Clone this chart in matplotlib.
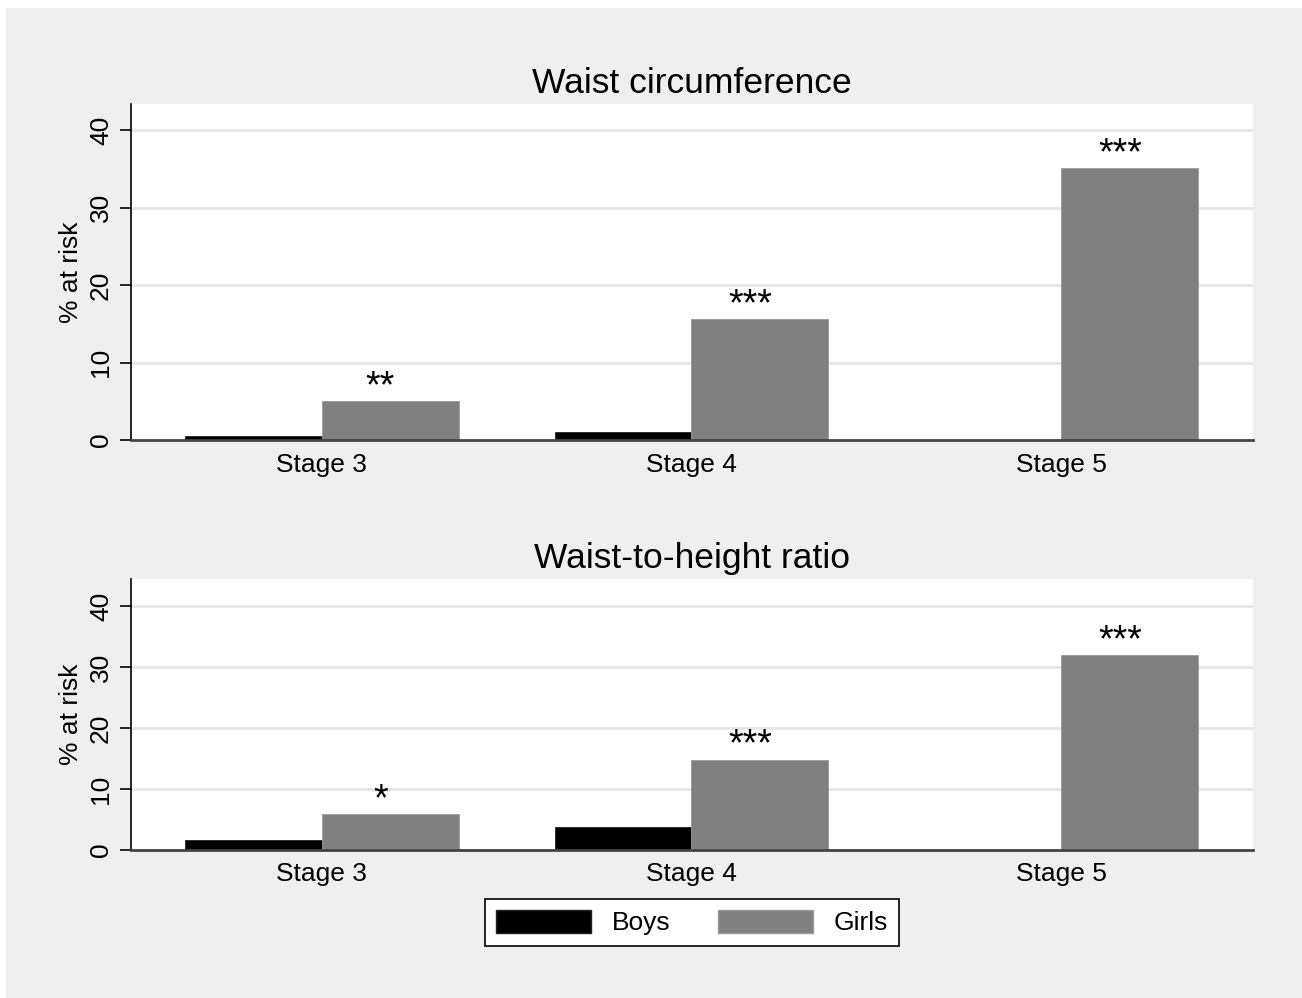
import numpy as np
import matplotlib
matplotlib.use("Agg")
import matplotlib.pyplot as plt
from matplotlib.patches import Rectangle, Patch

plt.rcParams['font.family'] = ['Liberation Sans', 'DejaVu Sans']

stages = ["Stage 3", "Stage 4", "Stage 5"]
titles = ["Waist circumference", "Waist-to-height ratio"]
boys = [[0.5, 1.0, 0.0], [1.6, 3.8, 0.0]]
girls = [[5.0, 15.6, 35.1], [5.9, 14.8, 31.9]]
stars = [["**", "***", "***"], ["*", "***", "***"]]
yticks = [0, 10, 20, 30, 40]
ytops = [43.4, 44.4]

fig = plt.figure(figsize=(13.02, 9.98), dpi=100, facecolor="white")
# stata style grey outer region
fig.patches.append(Rectangle((6 / 1302, 0), 1, 1 - 8 / 998, transform=fig.transFigure,
                             facecolor="#efefef", edgecolor="none", zorder=-10))

boxes = [[0.1006, 0.5591, 0.8618, 0.3367], [0.1006, 0.1483, 0.8618, 0.2715]]
x = np.arange(len(stages))
w = 0.37

for i in range(2):
    ax = fig.add_axes(boxes[i])
    ax.set_facecolor("white")
    ax.bar(x - w / 2, boys[i], w, color="black", edgecolor="#222222", linewidth=0.6, zorder=3)
    ax.bar(x + w / 2, girls[i], w, color="#808080", edgecolor="#9a9a9a", linewidth=0.6, zorder=3)
    for j in range(len(stages)):
        ax.annotate(stars[i][j], (x[j] + w / 2, girls[i][j]), xytext=(-7, 3),
                    textcoords="offset points", ha="center", va="baseline", fontsize=27)
    ax.set_xlim(-0.516, 2.519)
    ax.set_ylim(0, ytops[i])
    ax.set_yticks(yticks)
    ax.set_yticklabels([str(t) for t in yticks], rotation=90, va="center", fontsize=19)
    ax.set_xticks(x)
    ax.set_xticklabels(stages, fontsize=19)
    ax.tick_params(axis="x", length=0, pad=9)
    ax.tick_params(axis="y", length=8, width=1.2, pad=5)
    for t in yticks[1:]:
        ax.axhline(t, color="#e6e6e6", linewidth=2, zorder=1)
    ax.spines["top"].set_visible(False)
    ax.spines["right"].set_visible(False)
    ax.spines["left"].set_linewidth(1.2)
    ax.spines["bottom"].set_color("#444444")
    ax.spines["bottom"].set_linewidth(2)
    ax.spines["bottom"].set_zorder(5)
    ax.set_ylabel("% at risk", fontsize=19, labelpad=4)
    ax.set_title(titles[i], fontsize=25.5, pad=8)

handles = [Patch(facecolor="black", edgecolor="#222222"), Patch(facecolor="#808080", edgecolor="#9a9a9a")]
leg = fig.legend(handles, ["Boys", "Girls"], loc="center", bbox_to_anchor=(0.5315, 0.0757),
                 ncol=2, fontsize=19, frameon=True, fancybox=False, handlelength=3.6,
                 handleheight=1.0, handletextpad=0.8, columnspacing=1.8, borderpad=0.4)
leg.get_frame().set_edgecolor("black")
leg.get_frame().set_linewidth(1.2)
leg.get_frame().set_facecolor("white")
leg.get_frame().set_alpha(1)

fig.savefig("out.png", dpi=100, facecolor=fig.get_facecolor())
